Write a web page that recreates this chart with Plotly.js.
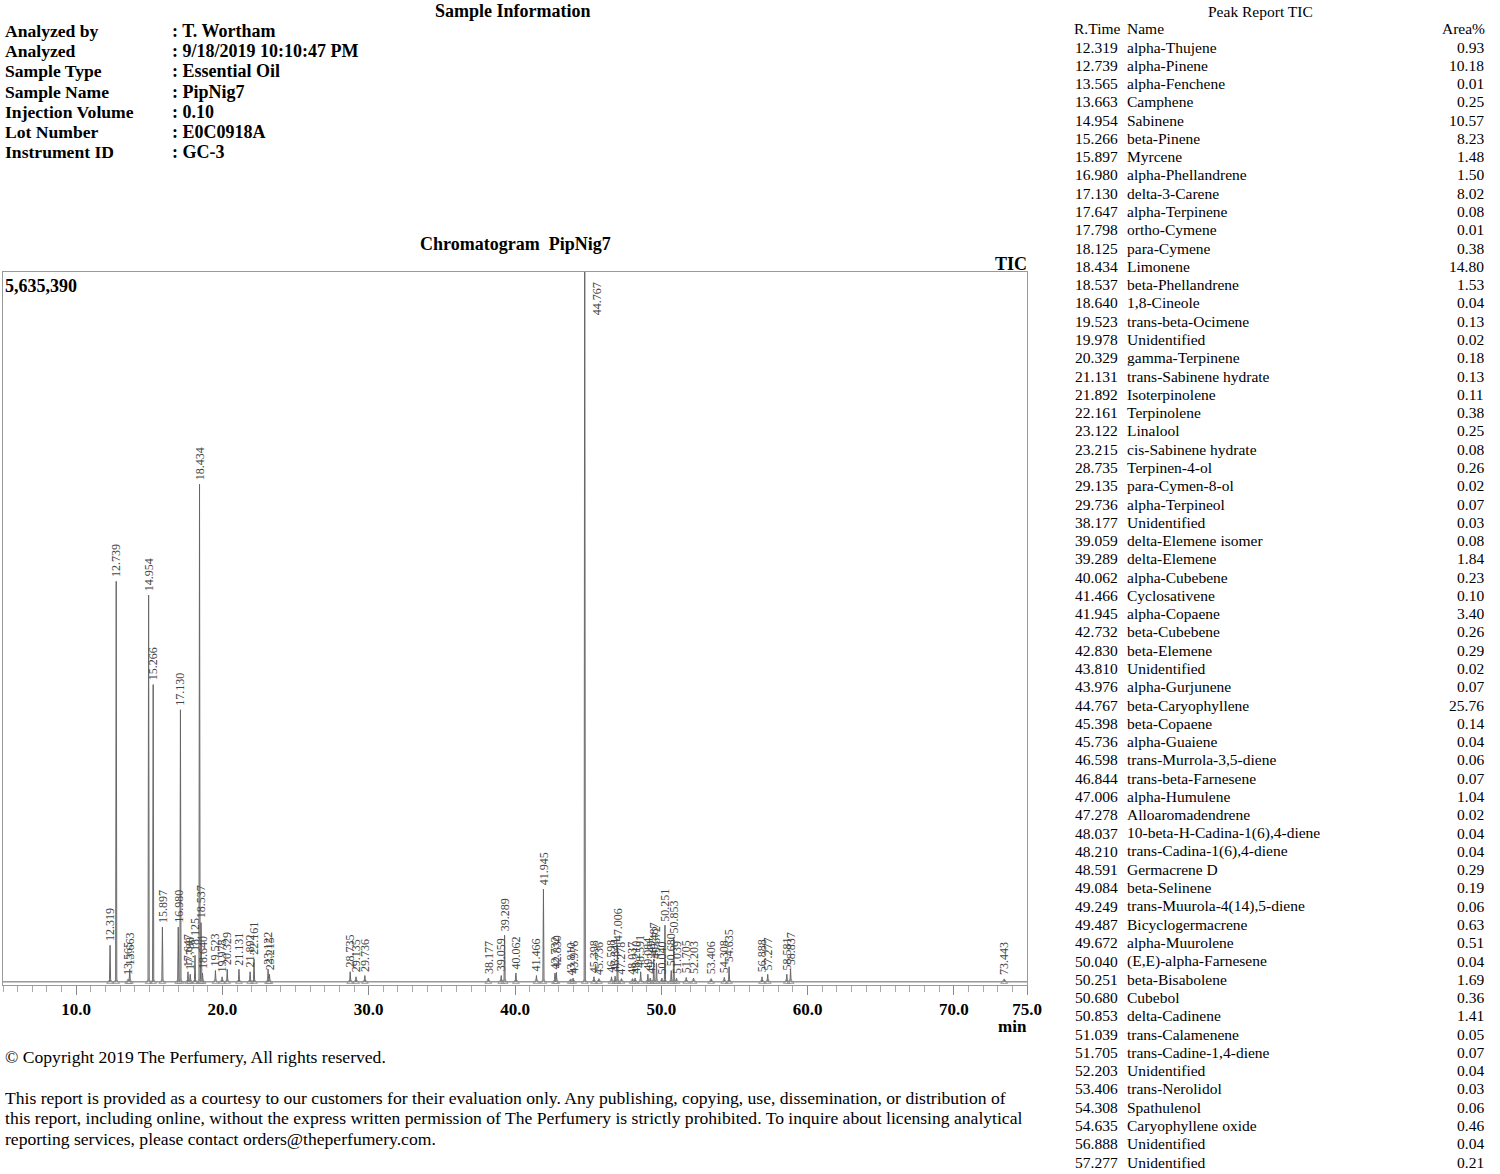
<!DOCTYPE html>
<html><head><meta charset="utf-8">
<script src="https://cdn.plot.ly/plotly-3.0.1.min.js"></script>
<style>html,body{margin:0;padding:0;background:#fff}#chart{width:1500px;height:1174px}</style>
</head><body><div id="chart"></div>
<script>
// ---- chromatogram peaks (retention time, min / estimated peak height, counts) ----
const peakTimes = [12.319,12.739,13.565,13.663,14.954,15.266,15.897,16.980,17.130,17.647,17.798,18.125,18.434,18.537,18.640,19.523,19.978,20.329,21.131,21.892,22.161,23.122,23.215,28.735,29.135,29.736,38.177,39.059,39.289,40.062,41.466,41.945,42.732,42.830,43.810,43.976,44.767,45.398,45.736,46.598,46.844,47.006,47.278,48.037,48.210,48.591,49.084,49.249,49.487,49.672,50.040,50.251,50.680,50.853,51.039,51.705,52.203,53.406,54.308,54.635,56.888,57.277,58.581,58.837,73.443];
const peakHeights = [290000,3180000,20000,100000,3070000,2360000,435000,435000,2160000,80000,60000,210000,3950000,470000,70000,90000,40000,100000,100000,80000,180000,100000,60000,80000,40000,50000,30000,50000,370000,70000,50000,735000,70000,75000,20000,30000,6900000,40000,25000,40000,45000,290000,25000,25000,30000,80000,60000,30000,180000,150000,30000,450000,90000,355000,30000,35000,30000,25000,35000,120000,40000,60000,60000,100000,20000];
const yMax = 5635390;

// ---- peak report table ----
const reportTimes = ["12.319","12.739","13.565","13.663","14.954","15.266","15.897","16.980","17.130","17.647","17.798","18.125","18.434","18.537","18.640","19.523","19.978","20.329","21.131","21.892","22.161","23.122","23.215","28.735","29.135","29.736","38.177","39.059","39.289","40.062","41.466","41.945","42.732","42.830","43.810","43.976","44.767","45.398","45.736","46.598","46.844","47.006","47.278","48.037","48.210","48.591","49.084","49.249","49.487","49.672","50.040","50.251","50.680","50.853","51.039","51.705","52.203","53.406","54.308","54.635","56.888","57.277"];
const reportNames = ["alpha-Thujene","alpha-Pinene","alpha-Fenchene","Camphene","Sabinene","beta-Pinene","Myrcene","alpha-Phellandrene","delta-3-Carene","alpha-Terpinene","ortho-Cymene","para-Cymene","Limonene","beta-Phellandrene","1,8-Cineole","trans-beta-Ocimene","Unidentified","gamma-Terpinene","trans-Sabinene hydrate","Isoterpinolene","Terpinolene","Linalool","cis-Sabinene hydrate","Terpinen-4-ol","para-Cymen-8-ol","alpha-Terpineol","Unidentified","delta-Elemene isomer","delta-Elemene","alpha-Cubebene","Cyclosativene","alpha-Copaene","beta-Cubebene","beta-Elemene","Unidentified","alpha-Gurjunene","beta-Caryophyllene","beta-Copaene","alpha-Guaiene","trans-Murrola-3,5-diene","trans-beta-Farnesene","alpha-Humulene","Alloaromadendrene","10-beta-H-Cadina-1(6),4-diene","trans-Cadina-1(6),4-diene","Germacrene D","beta-Selinene","trans-Muurola-4(14),5-diene","Bicyclogermacrene","alpha-Muurolene","(E,E)-alpha-Farnesene","beta-Bisabolene","Cubebol","delta-Cadinene","trans-Calamenene","trans-Cadine-1,4-diene","Unidentified","trans-Nerolidol","Spathulenol","Caryophyllene oxide","Unidentified","Unidentified"];
const reportAreas = ["0.93","10.18","0.01","0.25","10.57","8.23","1.48","1.50","8.02","0.08","0.01","0.38","14.80","1.53","0.04","0.13","0.02","0.18","0.13","0.11","0.38","0.25","0.08","0.26","0.02","0.07","0.03","0.08","1.84","0.23","0.10","3.40","0.26","0.29","0.02","0.07","25.76","0.14","0.04","0.06","0.07","1.04","0.02","0.04","0.04","0.29","0.19","0.06","0.63","0.51","0.04","1.69","0.36","1.41","0.05","0.07","0.04","0.03","0.06","0.46","0.04","0.21"];

// ---- sample information ----
const infoLabels = ["Analyzed by","Analyzed","Sample Type","Sample Name","Injection Volume","Lot Number","Instrument ID"];
const infoValues = [": T. Wortham",": 9/18/2019 10:10:47 PM",": Essential Oil",": PipNig7",": 0.10",": E0C0918A",": GC-3"];

const xTickVals = [10,20,30,40,50,60,70,75];
const xTickText = ["10.0","20.0","30.0","40.0","50.0","60.0","70.0","75.0"];

// ---- build chromatogram trace ----
const HW = 0.04;
const sx = [5], sy = [0];
peakTimes.forEach((t, i) => { sx.push(t - HW, t, t + HW); sy.push(0, peakHeights[i], 0); });
sx.push(75); sy.push(0);

const SERIF = "Liberation Serif, Times New Roman, serif";
// pixel -> paper helpers (plot area: x 3..1027, y 272..985)
const PL = 3, PW = 1024, PB = 985, PH = 713;
const px = p => (p - PL) / PW;
const py = p => (PB - p) / PH;

const ann = [];
function txt(text, x, y, opts) {
  opts = opts || {};
  const xa = opts.xa || 'left';
  const adj = xa === 'left' ? -2 : (xa === 'right' ? 2 : 0);
  ann.push({
    text: text, xref: 'paper', yref: 'paper', x: px(x + adj), y: py(y),
    xanchor: xa, yanchor: 'middle', showarrow: false,
    font: {family: SERIF, size: opts.size || 15, color: opts.color || '#000', weight: opts.bold ? 'bold' : 'normal'}
  });
}

// header
txt('Sample Information', 513, 11, {xa: 'center', size: 18, bold: true});
infoLabels.forEach((l, i) => {
  const y = 31 + i * 20.2;
  txt(l, 5, y, {size: 17.6, bold: true});
  txt(infoValues[i], 172, y, {size: 18, bold: true});
});
txt('Chromatogram  PipNig7', 515, 244, {xa: 'center', size: 18, bold: true});
txt('TIC', 1011, 264, {xa: 'center', size: 18, bold: true});
txt('5,635,390', 5, 286, {size: 18, bold: true});
txt('min', 1012, 1026, {xa: 'center', size: 17, bold: true});

// footer
txt('\u00A9 Copyright 2019 The Perfumery, All rights reserved.', 5, 1057, {size: 17.6});
txt('This report is provided as a courtesy to our customers for their evaluation only. Any publishing, copying, use, dissemination, or distribution of', 5, 1098, {size: 17.6});
txt('this report, including online, without the express written permission of The Perfumery is strictly prohibited. To inquire about licensing analytical', 5, 1118, {size: 17.6});
txt('reporting services, please contact orders@theperfumery.com.', 5, 1139, {size: 17.6});

// peak report table
txt('Peak Report TIC', 1260, 11, {xa: 'center', size: 15.5});
txt('R.Time', 1120, 29, {xa: 'right', size: 15.5});
txt('Name', 1127, 29, {size: 15.5});
txt('Area%', 1485, 29, {xa: 'right', size: 15.5});
reportTimes.forEach((t, i) => {
  const y = 47 + i * 18.28;
  txt(t, 1118, y, {xa: 'right', size: 15.5});
  txt(reportNames[i], 1127, y, {size: 15.5});
  txt(reportAreas[i], 1484, y, {xa: 'right', size: 15.5});
});

// peak labels
peakTimes.forEach((t, i) => {
  const h = peakHeights[i];
  const over = h > yMax;
  ann.push({
    text: t.toFixed(3), x: t, y: over ? yMax : h, xref: 'x', yref: 'y',
    textangle: -90, showarrow: false,
    xanchor: 'center', yanchor: over ? 'top' : 'bottom',
    xshift: over ? 12 : 0, yshift: over ? -8 : 2,
    font: {family: SERIF, size: 12, color: '#444'}
  });
});

const traces = [
  {x: sx, y: sy, type: 'scatter', mode: 'lines', line: {color: '#666', width: 1}, hoverinfo: 'skip', cliponaxis: true},
  {x: peakTimes, y: peakTimes.map(() => 0), type: 'scatter', mode: 'markers',
   marker: {symbol: 'triangle-up-open', size: 6, color: '#888', line: {width: 0.8, color: '#888'}}, hoverinfo: 'skip'}
];

const layout = {
  width: 1500, height: 1174,
  margin: {l: PL, r: 1500 - PL - PW, t: 272, b: 1174 - PB},
  paper_bgcolor: '#fff', plot_bgcolor: '#fff', showlegend: false,
  xaxis: {
    range: [5, 75], tickmode: 'array', tickvals: xTickVals, ticktext: xTickText,
    ticks: 'outside', ticklen: 9, tickcolor: '#888', tickwidth: 1,
    showgrid: false, zeroline: false, showline: true, linecolor: '#999', linewidth: 1, mirror: true,
    tickfont: {family: SERIF, size: 17, color: '#000', weight: 'bold'},
    minor: {tickmode: 'linear', tick0: 0, dtick: 1, ticks: 'outside', ticklen: 6, tickcolor: '#aaa', showgrid: false}
  },
  yaxis: {
    range: [-25000, yMax], showticklabels: false, ticks: '', showgrid: false, zeroline: false,
    showline: true, linecolor: '#999', linewidth: 1, mirror: true
  },
  annotations: ann
};

Plotly.newPlot('chart', traces, layout, {displayModeBar: false, staticPlot: true});
</script>
</body></html>
